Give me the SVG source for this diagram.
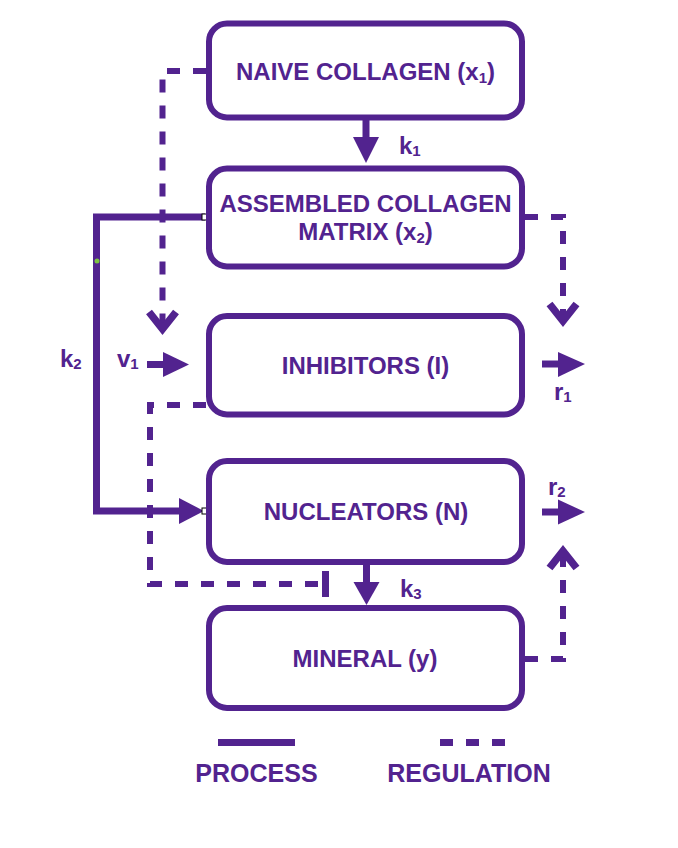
<svg xmlns="http://www.w3.org/2000/svg" width="678" height="848" viewBox="0 0 678 848">
<style>
.box{fill:#fff;stroke:#52238f;stroke-width:6}
.t{font-family:"Liberation Sans",Arial,Helvetica,sans-serif;font-weight:bold;fill:#52238f;font-size:24px}
.m{text-anchor:middle}
.s{font-size:15px}
.solid{fill:none;stroke:#52238f;stroke-width:7}
.dash{fill:none;stroke:#52238f;stroke-width:6;stroke-dasharray:13 13}
.head{fill:#52238f}
.chev{fill:none;stroke:#52238f;stroke-width:7.5;stroke-linejoin:miter}
.handle{fill:#fff;stroke:#000;stroke-width:1}
</style>
<rect width="678" height="848" fill="#fff"/>
<g id="connectors">
  <!-- k1 -->
  <path class="solid" d="M366,120 V139"/>
  <polygon class="head" points="353,137 379,137 366,163"/>
  <!-- k3 -->
  <path class="solid" d="M366.5,565 V584"/>
  <polygon class="head" points="353.5,582 379.5,582 366.5,605"/>
  <!-- k2 -->
  <path class="solid" d="M205,217 H96.5 V511 H181"/>
  <polygon class="head" points="179,498 204,511 179,524"/>
  <!-- v1 -->
  <path class="solid" d="M147,364.5 H165"/>
  <polygon class="head" points="163,352 189,364.5 163,377"/>
  <!-- r1 -->
  <path class="solid" d="M542,364 H560"/>
  <polygon class="head" points="558,352 585,364 558,377"/>
  <!-- r2 -->
  <path class="solid" d="M542,512 H560"/>
  <polygon class="head" points="558,499.5 585,512 558,524.5"/>
  <!-- regulation: naive collagen -> inhibitors -->
  <path class="dash" d="M206,71 H162.5 V326"/>
  <polyline class="chev" points="149,312 162.5,329 176,312"/>
  <!-- regulation: assembled matrix -> r1 -->
  <path class="dash" d="M525,217 H563 V318"/>
  <polyline class="chev" points="549.5,304 563,321 576.5,304"/>
  <!-- regulation: mineral -> r2 -->
  <path class="dash" d="M525,659 H563 V556"/>
  <polyline class="chev" points="549.5,568 563,551 576.5,568"/>
  <!-- regulation: inhibitors -| k3 -->
  <path class="dash" d="M206,405 H150 V584 H318"/>
  <path class="solid" d="M325.5,571 V597"/>
  <!-- handles -->
  <rect class="handle" x="202" y="214" width="6" height="6"/>
  <rect class="handle" x="202" y="508" width="6" height="6"/>
  <circle cx="97" cy="261" r="2.5" fill="#7dc242"/>
</g>
<g id="naive">
  <rect class="box" x="209" y="23.5" width="313" height="94" rx="18"/>
  <text class="t m" x="365.5" y="80">NAIVE COLLAGEN (x<tspan class="s" dy="3">1</tspan><tspan dy="-3">)</tspan></text>
</g>
<g id="assembled">
  <rect class="box" x="209" y="168.5" width="313" height="98" rx="18"/>
  <text class="t m" x="365.5" y="212">ASSEMBLED COLLAGEN</text>
  <text class="t m" x="365.5" y="240">MATRIX (x<tspan class="s" dy="3">2</tspan><tspan dy="-3">)</tspan></text>
</g>
<g id="inhibitors">
  <rect class="box" x="209" y="316" width="313" height="98.5" rx="18"/>
  <text class="t m" x="365.5" y="374">INHIBITORS (I)</text>
</g>
<g id="nucleators">
  <rect class="box" x="209" y="461" width="313" height="101" rx="18"/>
  <text class="t m" x="366" y="520">NUCLEATORS (N)</text>
</g>
<g id="mineral">
  <rect class="box" x="209" y="608" width="313" height="100" rx="18"/>
  <text class="t m" x="365" y="667">MINERAL (y)</text>
</g>
<g id="labels">
  <text class="t" x="399" y="154">k<tspan class="s" dy="2">1</tspan></text>
  <text class="t" x="60" y="367">k<tspan class="s" dy="2">2</tspan></text>
  <text class="t" x="400" y="597">k<tspan class="s" dy="2">3</tspan></text>
  <text class="t" x="117" y="367">v<tspan class="s" dy="2">1</tspan></text>
  <text class="t" x="554" y="400">r<tspan class="s" dy="2">1</tspan></text>
  <text class="t" x="548" y="495">r<tspan class="s" dy="2">2</tspan></text>
</g>
<g id="legend">
  <path d="M218,742.5 H295" stroke="#52238f" stroke-width="7" fill="none"/>
  <path d="M440,742.5 H506" stroke="#52238f" stroke-width="7" stroke-dasharray="13 13" fill="none"/>
  <text class="t m" x="256.5" y="782" style="font-size:25px">PROCESS</text>
  <text class="t m" x="469" y="782" style="font-size:25px">REGULATION</text>
</g>
</svg>
